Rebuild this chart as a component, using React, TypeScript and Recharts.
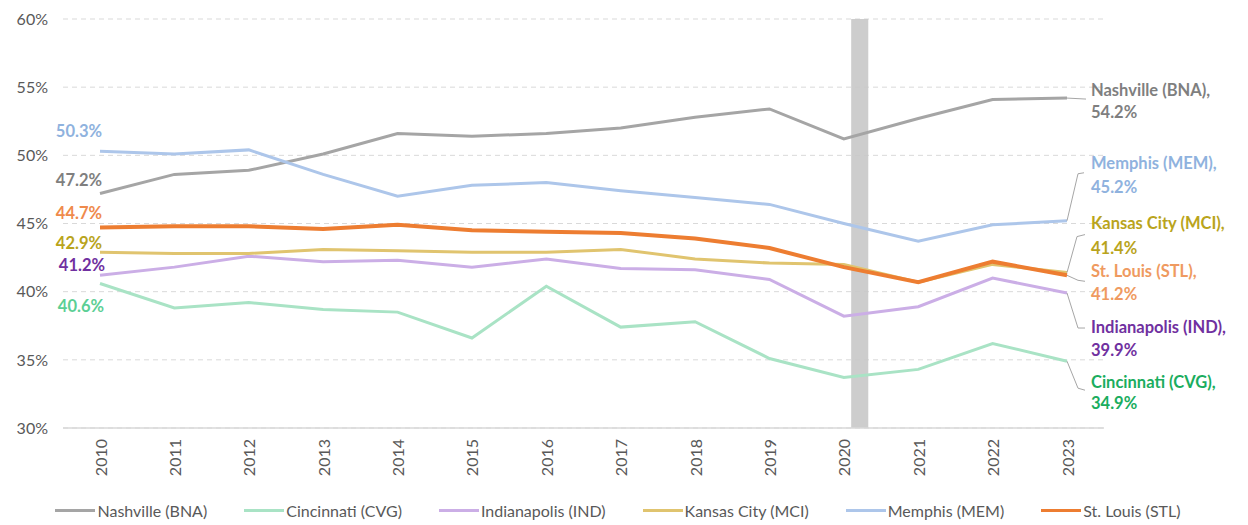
import React from 'react';
import {
  LineChart,
  Line,
  XAxis,
  YAxis,
  CartesianGrid,
  ReferenceArea,
  LabelList,
  Legend,
} from 'recharts';

// ---- data ----
const years = [2010, 2011, 2012, 2013, 2014, 2015, 2016, 2017, 2018, 2019, 2020, 2021, 2022, 2023];

const nashville = [47.2, 48.6, 48.9, 50.1, 51.6, 51.4, 51.6, 52.0, 52.8, 53.4, 51.2, 52.7, 54.1, 54.2];
const cincinnati = [40.6, 38.8, 39.2, 38.7, 38.5, 36.6, 40.4, 37.4, 37.8, 35.1, 33.7, 34.3, 36.2, 34.9];
const indianapolis = [41.2, 41.8, 42.6, 42.2, 42.3, 41.8, 42.4, 41.7, 41.6, 40.9, 38.2, 38.9, 41.0, 39.9];
const kansasCity = [42.9, 42.8, 42.8, 43.1, 43.0, 42.9, 42.9, 43.1, 42.4, 42.1, 42.0, 40.7, 42.0, 41.4];
const memphis = [50.3, 50.1, 50.4, 48.6, 47.0, 47.8, 48.0, 47.4, 46.9, 46.4, 45.0, 43.7, 44.9, 45.2];
const stLouis = [44.7, 44.8, 44.8, 44.6, 44.9, 44.5, 44.4, 44.3, 43.9, 43.2, 41.8, 40.7, 42.2, 41.2];

const yTicks = [30, 35, 40, 45, 50, 55, 60];
const yDomain = [30, 60];

// shaded pandemic marker, in year units on a continuous axis
const shadeFrom = 2020.1;
const shadeTo = 2020.33;

const FONT = 'Lato, "Open Sans", sans-serif';
const LAST = years.length - 1;

type Pt = [number, number];
type Series = {
  key: string;
  name: string;
  values: number[];
  stroke: string;
  width: number;
  leftColor: string;
  leftDx: number;
  leftDy: number;
  rightColor: string;
  rightDy1: number;
  rightDy2: number;
  leader: Pt[];
};

const series: Series[] = [
  {
    key: 'bna', name: 'Nashville (BNA)', values: nashville, stroke: '#a5a5a5', width: 3,
    leftColor: '#7f7f7f', leftDx: 2, leftDy: -14,
    rightColor: '#7f7f7f', rightDy1: -8, rightDy2: 14, leader: [[0, 0], [19, 1]],
  },
  {
    key: 'cvg', name: 'Cincinnati (CVG)', values: cincinnati, stroke: '#a9e3c5', width: 3,
    leftColor: '#5ccf95', leftDx: 4, leftDy: 23,
    rightColor: '#1aad5e', rightDy1: 21, rightDy2: 42, leader: [[0, 0], [11, 27], [18, 29]],
  },
  {
    key: 'ind', name: 'Indianapolis (IND)', values: indianapolis, stroke: '#cbaee6', width: 3,
    leftColor: '#7030a0', leftDx: 5, leftDy: -10,
    rightColor: '#7030a0', rightDy1: 34, rightDy2: 57, leader: [[0, 0], [11, 35], [18, 35]],
  },
  {
    key: 'mci', name: 'Kansas City (MCI)', values: kansasCity, stroke: '#e0c46f', width: 3,
    leftColor: '#b9a41c', leftDx: 2, leftDy: -9,
    rightColor: '#b9a41c', rightDy1: -50, rightDy2: -25, leader: [[0, 0], [10, -36], [18, -38]],
  },
  {
    key: 'mem', name: 'Memphis (MEM)', values: memphis, stroke: '#adc6ea', width: 3,
    leftColor: '#8fb2de', leftDx: 2, leftDy: -20,
    rightColor: '#8fb2de', rightDy1: -58, rightDy2: -34, leader: [[0, 0], [11, -47], [17, -48]],
  },
  {
    key: 'stl', name: 'St. Louis (STL)', values: stLouis, stroke: '#ed7d31', width: 4,
    leftColor: '#ef8a4c', leftDx: 2, leftDy: -15,
    rightColor: '#ef9a60', rightDy1: -4, rightDy2: 19, leader: [[0, 0], [11, 5], [18, 6]],
  },
];

const data = years.map((year, i) => {
  const row: Record<string, number> = { year };
  series.forEach((s) => {
    row[s.key] = s.values[i];
  });
  return row;
});

const fmt = (v: number) => `${v.toFixed(1)}%`;

const makeLabel = (s: Series) => (props: any) => {
  const { x, y, index, value } = props;
  if (x == null || y == null) return null;
  if (index === 0) {
    return (
      <text
        x={x + s.leftDx}
        y={y + s.leftDy}
        textAnchor="end"
        dominantBaseline="central"
        fill={s.leftColor}
        fontFamily={FONT}
        fontWeight={700}
        fontSize={16.5}
      >
        {fmt(Number(value))}
      </text>
    );
  }
  if (index === LAST) {
    const pts = s.leader.map(([dx, dy]) => `${x + dx},${y + dy}`).join(' ');
    return (
      <g>
        <polyline points={pts} fill="none" stroke="#a6a6a6" strokeWidth={1} />
        <text
          x={x + 24}
          y={y + s.rightDy1}
          dominantBaseline="central"
          fill={s.rightColor}
          fontFamily={FONT}
          fontWeight={700}
          fontSize={16.5}
        >
          {`${s.name},`}
        </text>
        <text
          x={x + 24}
          y={y + s.rightDy2}
          dominantBaseline="central"
          fill={s.rightColor}
          fontFamily={FONT}
          fontWeight={700}
          fontSize={16.5}
        >
          {fmt(Number(value))}
        </text>
      </g>
    );
  }
  return null;
};

const YearTick = (props: any) => {
  const { x, y, payload } = props;
  return (
    <g transform={`translate(${x},${y + 9})`}>
      <text
        transform="rotate(-90)"
        textAnchor="end"
        dominantBaseline="central"
        fill="#595959"
        fontFamily={FONT}
        fontSize={16}
      >
        {payload.value}
      </text>
    </g>
  );
};

const LegendContent = () => (
  <div
    style={{
      display: 'flex',
      justifyContent: 'center',
      alignItems: 'center',
      gap: 37,
      height: 45,
      paddingTop: 16,
      boxSizing: 'border-box',
      paddingRight: 12,
      fontFamily: FONT,
      fontSize: 16,
      color: '#595959',
    }}
  >
    {series.map((s) => (
      <div key={s.key} style={{ display: 'flex', alignItems: 'center' }}>
        <span
          style={{ display: 'inline-block', width: 40, height: 3, background: s.stroke, marginRight: 2 }}
        />
        <span>{s.name}</span>
      </div>
    ))}
  </div>
);

export default function App() {
  return (
    <div style={{ position: 'absolute', left: 0, top: 0, width: 1248, height: 525, background: '#fff' }}>
      <LineChart
        width={1248}
        height={525}
        data={data}
        margin={{ top: 19, right: 144, left: 0, bottom: 0 }}
      >
        <CartesianGrid vertical={false} stroke="#d9d9d9" strokeDasharray="5 4" />
        <XAxis
          dataKey="year"
          type="category"
          padding={{ left: 37, right: 37 }}
          axisLine={{ stroke: '#d9d9d9', strokeWidth: 1.5 }}
          tickLine={false}
          tickSize={0}
          tick={<YearTick />}
          interval={0}
          height={52}
        />
        <XAxis
          xAxisId="cont"
          dataKey="year"
          type="number"
          domain={[2009.5, 2023.5]}
          allowDataOverflow
          hide
        />
        <YAxis
          domain={yDomain}
          ticks={yTicks}
          width={63}
          axisLine={false}
          tickLine={false}
          tickSize={0}
          tickMargin={15}
          tickFormatter={(v: number) => `${v}%`}
          tick={{ fill: '#595959', fontSize: 16, fontFamily: FONT }}
        />
        <ReferenceArea
          xAxisId="cont"
          x1={shadeFrom}
          x2={shadeTo}
          y1={30}
          y2={60}
          fill="#c8c8c8"
          fillOpacity={0.9}
          stroke="none"
        />
        <Legend
          verticalAlign="bottom"
          content={<LegendContent />}
          wrapperStyle={{ left: 0, width: 1248, height: 45 }}
        />
        {series.map((s) => (
          <Line
            key={s.key}
            dataKey={s.key}
            name={s.name}
            stroke={s.stroke}
            strokeWidth={s.width}
            dot={false}
            activeDot={false}
            isAnimationActive={false}
          >
            <LabelList dataKey={s.key} content={makeLabel(s)} />
          </Line>
        ))}
      </LineChart>
    </div>
  );
}
